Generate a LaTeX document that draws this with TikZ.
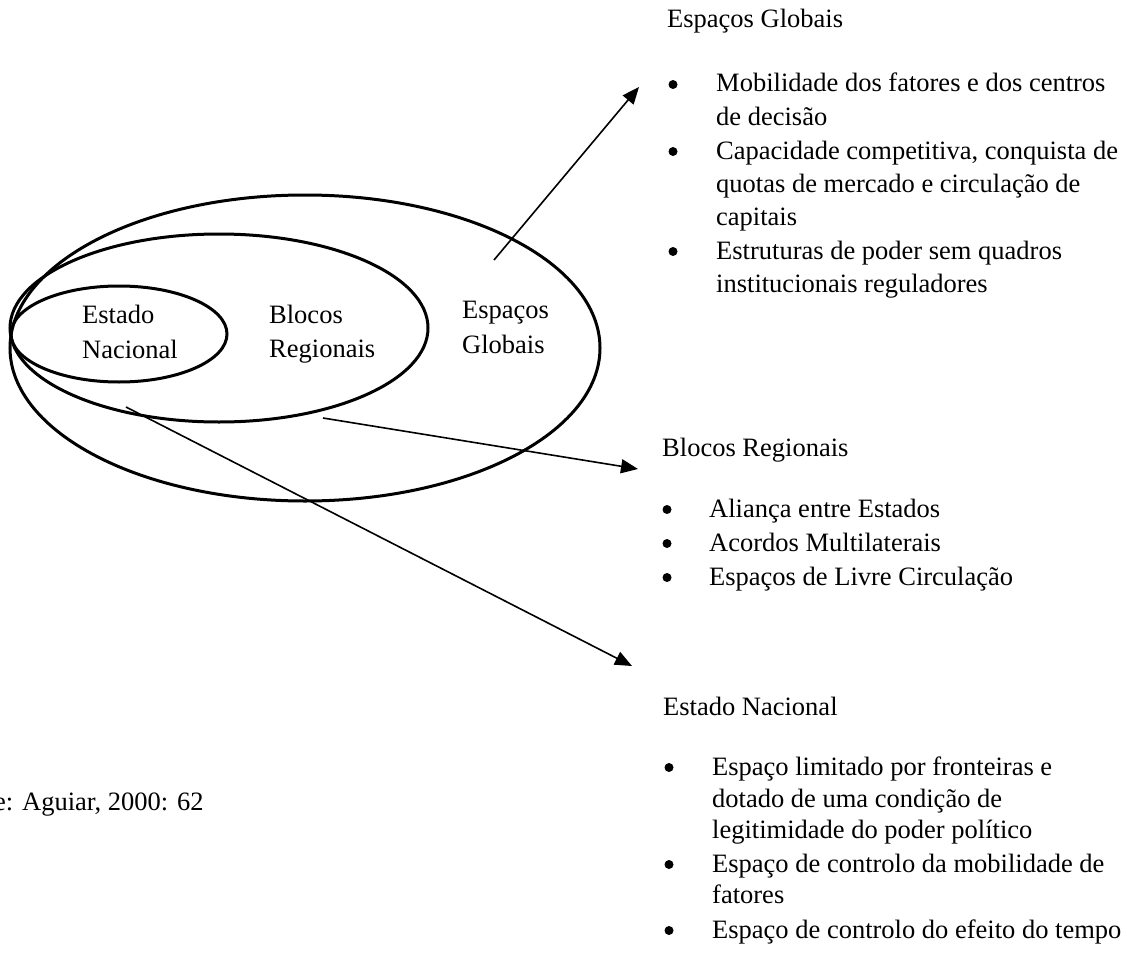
\documentclass[tikz,border=0pt]{standalone}
\usepackage{fontspec}
\setmainfont{Liberation Serif}
\usetikzlibrary{arrows.meta,shapes.geometric}
\begin{document}
\begin{tikzpicture}[x=1pt,y=-1pt,
  txt/.style={anchor=base west, inner sep=0pt, font=\fontsize{26.5}{33.5}\selectfont},
  bul/.style={circle, fill=black, inner sep=0pt, minimum size=9pt, yshift=7.5pt},
  ell/.style={draw, ellipse, line width=3pt, inner sep=0pt},
  arr/.style={line width=1.6pt, -{Triangle[length=17pt,width=14pt]}}]
\useasboundingbox (0,0) rectangle (1127,966);
% ellipses
\node[ell, minimum width=590pt, minimum height=306pt] (outer) at (305,348) {};
\node[ell, minimum width=418pt, minimum height=188pt] (middle) at (219,328) {};
\node[ell, minimum width=216pt, minimum height=96pt] (inner) at (119,334) {};
% labels in ellipses
\node[txt] (en1) at (82,323) {Estado};
\node[txt] (en2) at (82,358) {Nacional};
\node[txt] (br1) at (269,323) {Blocos};
\node[txt] (br2) at (269,357) {Regionais};
\node[txt] (eg1) at (462,318) {Espaços};
\node[txt] (eg2) at (462,353) {Globais};
% arrow endpoints
\coordinate (a1s) at (494,260);
\coordinate (a1e) at (639,87);
\coordinate (a2s) at (323,418);
\coordinate (a2e) at (638,469);
\coordinate (a3s) at (126,407);
\coordinate (a3e) at (632,666);
\draw[arr] (a1s) -- (a1e);
\draw[arr] (a2s) -- (a2e);
\draw[arr] (a3s) -- (a3e);
% Espacos Globais block
\node[txt] (egh) at (667,28) {Espaços Globais};
\node[bul] (egb1) at (673,92) {};
\node[txt] (egl1) at (716,92) {Mobilidade dos fatores e dos centros};
\node[txt] (egl2) at (716,125) {de decisão};
\node[bul] (egb2) at (673,159) {};
\node[txt] (egl3) at (716,159) {Capacidade competitiva, conquista de};
\node[txt] (egl4) at (716,192) {quotas de mercado e circulação de};
\node[txt] (egl5) at (716,225) {capitais};
\node[bul] (egb3) at (673,259) {};
\node[txt] (egl6) at (716,259) {Estruturas de poder sem quadros};
\node[txt] (egl7) at (716,292) {institucionais reguladores};
% Blocos Regionais block
\node[txt] (brh) at (662,456) {Blocos Regionais};
\node[bul] (brb1) at (667,517) {};
\node[txt] (brl1) at (709,517) {Aliança entre Estados};
\node[bul] (brb2) at (667,551) {};
\node[txt] (brl2) at (709,551) {Acordos Multilaterais};
\node[bul] (brb3) at (667,585) {};
\node[txt] (brl3) at (709,585) {Espaços de Livre Circulação};
% Estado Nacional block
\node[txt] (enh) at (663,715) {Estado Nacional};
\node[bul] (enb1) at (669,775) {};
\node[txt] (enl1) at (712,775) {Espaço limitado por fronteiras e};
\node[txt] (enl2) at (712,807) {dotado de uma condição de};
\node[txt] (enl3) at (712,838) {legitimidade do poder político};
\node[bul] (enb2) at (669,872) {};
\node[txt] (enl4) at (712,872) {Espaço de controlo da mobilidade de};
\node[txt] (enl5) at (712,903) {fatores};
\node[bul] (enb3) at (669,938) {};
\node[txt] (enl6) at (712,938) {Espaço de controlo do efeito do tempo};
% source
\node[txt] (src) at (-6,810) {e: Aguiar, 2000: 62};
\end{tikzpicture}
\end{document}
